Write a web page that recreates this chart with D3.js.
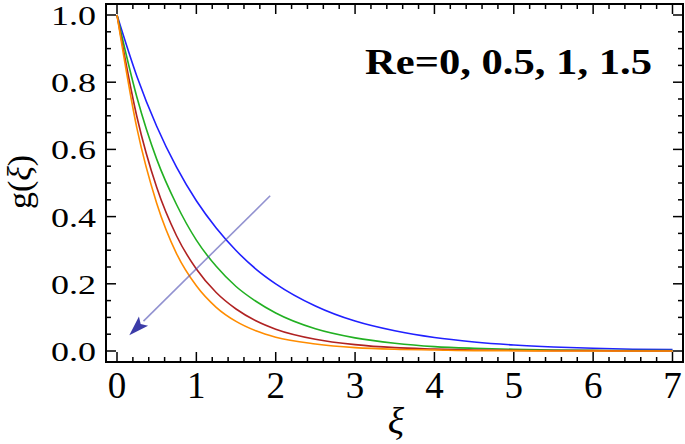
<!DOCTYPE html>
<html>
<head>
<meta charset="utf-8">
<script src="https://cdn.jsdelivr.net/npm/d3@7"></script>
<style>
  body { margin: 0; background: #fff; }
  text { font-family: "Times New Roman", "Liberation Serif", Times, serif; }
</style>
</head>
<body>
<svg id="chart" width="685" height="444"></svg>
<script>
// values
const xi = [0, 0.25, 0.5, 0.75, 1, 1.25, 1.5, 1.75, 2, 2.5, 3, 3.5, 4, 4.5, 5, 5.5, 6, 6.5, 7];
const gRe0   = [1, 0.818, 0.669, 0.547, 0.447, 0.366, 0.299, 0.244, 0.200, 0.134, 0.089, 0.060, 0.040, 0.027, 0.018, 0.012, 0.008, 0.005, 0.004];
const gRe05  = [1, 0.756, 0.571, 0.436, 0.330, 0.252, 0.192, 0.148, 0.113, 0.066, 0.039, 0.023, 0.013, 0.008, 0.005, 0.003, 0.002, 0.001, 0.001];
const gRe1   = [1, 0.698, 0.487, 0.343, 0.244, 0.174, 0.125, 0.090, 0.065, 0.035, 0.019, 0.010, 0.006, 0.003, 0.002, 0.001, 0.001, 0, 0];
const gRe15  = [1, 0.664, 0.440, 0.290, 0.194, 0.130, 0.088, 0.060, 0.041, 0.021, 0.010, 0.005, 0.003, 0.001, 0.001, 0, 0, 0, 0];
const seriesColors = ["#2020ff", "#22b022", "#b02222", "#ff8c00"];
const xTicks = [0, 1, 2, 3, 4, 5, 6, 7];
const yTicks = [0, 0.2, 0.4, 0.6, 0.8, 1.0];
const arrowFrom = [1.93, 0.462];
const arrowTo = [0.155, 0.047];
const label = "Re=0, 0.5, 1, 1.5";

const svg = d3.select("#chart");
const frame = { left: 106, right: 683, top: 4, bottom: 362 };

const x = d3.scaleLinear().domain([0, 7]).range([117, 672.5]);
const y = d3.scaleLinear().domain([0, 1]).range([351, 15]);

svg.append("defs").append("clipPath").attr("id", "clip")
  .append("rect")
  .attr("x", frame.left).attr("y", frame.top)
  .attr("width", frame.right - frame.left).attr("height", frame.bottom - frame.top);

// curves
const line = d3.line()
  .x(d => x(d[0]))
  .y(d => y(d[1]))
  .curve(d3.curveMonotoneX);

const allSeries = [gRe0, gRe05, gRe1, gRe15];
svg.append("g").attr("clip-path", "url(#clip)")
  .selectAll("path")
  .data(allSeries)
  .enter().append("path")
  .attr("d", s => line(xi.map((v, i) => [v, s[i]])))
  .attr("fill", "none")
  .attr("stroke", (s, i) => seriesColors[i])
  .attr("stroke-width", 1.6);

// arrow
const ax0 = x(arrowFrom[0]), ay0 = y(arrowFrom[1]);
const ax1 = x(arrowTo[0]), ay1 = y(arrowTo[1]);
const ang = Math.atan2(ay1 - ay0, ax1 - ax0);
const headLen = 20, headW = 6.5;
const bx = ax1 - headLen * Math.cos(ang), by = ay1 - headLen * Math.sin(ang);
svg.append("line")
  .attr("x1", ax0).attr("y1", ay0)
  .attr("x2", bx).attr("y2", by)
  .attr("stroke", "#4a4ab0")
  .attr("stroke-opacity", 0.6)
  .attr("stroke-width", 1.6);
svg.append("path")
  .attr("d", `M${ax1},${ay1}L${bx - headW * Math.sin(ang)},${by + headW * Math.cos(ang)}L${bx + 4 * Math.cos(ang)},${by + 4 * Math.sin(ang)}L${bx + headW * Math.sin(ang)},${by - headW * Math.cos(ang)}Z`)
  .attr("fill", "#3c3ca8");

// frame
svg.append("rect")
  .attr("x", frame.left).attr("y", frame.top)
  .attr("width", frame.right - frame.left).attr("height", frame.bottom - frame.top)
  .attr("fill", "none").attr("stroke", "#000").attr("stroke-width", 2);

// ticks on all four sides, pointing inward
const xMinor = d3.range(0, 7.001, 0.2).filter(v => xTicks.every(t => Math.abs(t - v) > 1e-6));
const yMinor = d3.range(0, 1.001, 0.05).filter(v => yTicks.every(t => Math.abs(t - v) > 1e-6));
const tg = svg.append("g").attr("stroke", "#000").attr("stroke-width", 1.5);
function xTick(v, len) {
  tg.append("line").attr("x1", x(v)).attr("x2", x(v)).attr("y1", frame.bottom).attr("y2", frame.bottom - len);
  tg.append("line").attr("x1", x(v)).attr("x2", x(v)).attr("y1", frame.top).attr("y2", frame.top + len);
}
function yTick(v, len) {
  tg.append("line").attr("y1", y(v)).attr("y2", y(v)).attr("x1", frame.left).attr("x2", frame.left + len);
  tg.append("line").attr("y1", y(v)).attr("y2", y(v)).attr("x1", frame.right).attr("x2", frame.right - len);
}
xTicks.forEach(v => xTick(v, 10));
xMinor.forEach(v => xTick(v, 5));
yTicks.forEach(v => yTick(v, 10));
yMinor.forEach(v => yTick(v, 5));

// tick labels
svg.append("g").selectAll("text")
  .data(xTicks)
  .enter().append("text")
  .attr("x", d => x(d))
  .attr("y", 398)
  .attr("text-anchor", "middle")
  .attr("font-size", 37)
  .text(d => d);

svg.append("g").selectAll("text")
  .data(yTicks)
  .enter().append("text")
  .attr("x", 51)
  .attr("y", d => y(d) + 10)
  .attr("font-size", 28)
  .attr("textLength", 45)
  .attr("lengthAdjust", "spacingAndGlyphs")
  .text(d => d3.format(".1f")(d));

// axis titles
svg.append("text")
  .attr("x", 396).attr("y", 434)
  .attr("text-anchor", "middle")
  .attr("font-size", 38)
  .attr("font-style", "italic")
  .text("ξ");

const yl = svg.append("text")
  .attr("transform", "translate(31,182) rotate(-90)")
  .attr("text-anchor", "middle")
  .attr("font-size", 34);
yl.append("tspan").text("g(");
yl.append("tspan").attr("font-style", "italic").text("ξ");
yl.append("tspan").text(")");

// annotation
svg.append("text")
  .attr("x", 365).attr("y", 74)
  .attr("font-size", 36)
  .attr("font-weight", "bold")
  .attr("textLength", 287)
  .attr("lengthAdjust", "spacingAndGlyphs")
  .text(label);
</script>
</body>
</html>
